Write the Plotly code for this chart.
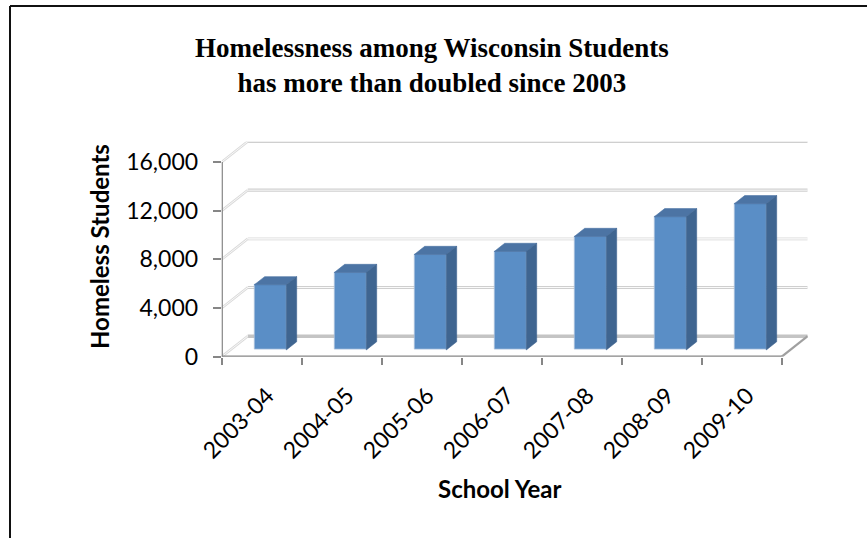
import plotly.graph_objects as go

# ---- data -------------------------------------------------------------
years = ["2003-04", "2004-05", "2005-06", "2006-07", "2007-08", "2008-09", "2009-10"]
students = [5350, 6360, 7840, 8090, 9320, 10940, 12010]
y_ticks = [0, 4000, 8000, 12000, 16000]
y_tick_text = ["0", "4,000", "8,000", "12,000", "16,000"]

# ---- geometry of the pseudo-3D box (pixels on the page) ------------------
W, H = 867, 538
X0_PX, X1_PX = 221.7, 781.7        # front floor edge, left / right
Y0_PX, YTOP_PX = 356.7, 162.0      # front plane: value 0 / value 16,000
DEPTH_DX_PX, DEPTH_DY_PX = 26.0, 20.5

n = len(years)
Y_MAX = y_ticks[-1]
x_per_px = n / (X1_PX - X0_PX)
y_per_px = Y_MAX / (Y0_PX - YTOP_PX)
DXU = DEPTH_DX_PX * x_per_px       # depth offset in x data units
DYU = DEPTH_DY_PX * y_per_px       # depth offset in y data units

BAR_W = 0.4
Z_FRONT, Z_BACK = 0.33, 0.73
LABEL_SHIFT = 0.07                 # rotated category labels sit a little right of centre

FRONT = "#5A8EC6"
TOP = "#4C74A4"
SIDE = "#3F6590"
EDGE = "#A9C0DD"
AXIS = "#868686"
GRID = "#CFCFCF"


def proj(x, y, z):
    """Oblique projection: depth z in [0, 1] shifts right and up."""
    return x + z * DXU, y + z * DYU


XL, XR = -0.5, n - 0.5

fig = go.Figure()

# front faces of the columns
fig.add_trace(go.Bar(
    x=[i + Z_FRONT * DXU for i in range(n)],
    y=students,
    base=Z_FRONT * DYU,
    width=BAR_W,
    marker=dict(color=FRONT, line=dict(color=EDGE, width=0.8)),
    hoverinfo="skip",
    showlegend=False,
))

# top and side faces
for i, v in enumerate(students):
    l, r = i - BAR_W / 2, i + BAR_W / 2
    top = [proj(l, v, Z_FRONT), proj(r, v, Z_FRONT), proj(r, v, Z_BACK), proj(l, v, Z_BACK)]
    side = [proj(r, 0, Z_FRONT), proj(r, v, Z_FRONT), proj(r, v, Z_BACK), proj(r, 0, Z_BACK)]
    for pts, col in ((top, TOP), (side, SIDE)):
        xs = [p[0] for p in pts] + [pts[0][0]]
        ys = [p[1] for p in pts] + [pts[0][1]]
        fig.add_trace(go.Scatter(
            x=xs, y=ys, mode="lines", fill="toself", fillcolor=col,
            line=dict(color=col, width=0.6), hoverinfo="skip", showlegend=False,
        ))

shapes = []


def seg(p, q, color, width, layer="below"):
    shapes.append(dict(type="line", xref="x", yref="y", x0=p[0], y0=p[1], x1=q[0], y1=q[1],
                       line=dict(color=color, width=width), layer=layer))


# back-wall gridlines (double line look) and side-wall diagonals
for t in y_ticks:
    if t == 0:
        continue
    a, b = proj(XL, t, 1), proj(XR, t, 1)
    c = "#E6E6E6" if t == 8000 else GRID
    seg(a, b, c, 3.2)
    seg(a, b, "#FAFAFA", 1.0)
    s0, s1 = proj(XL, t, 0), proj(XL, t, 1)
    seg(s0, s1, "#DADADA", 2.6)
    seg(s0, s1, "#FFFFFF", 0.8)

# floor
seg(proj(XL, 0, 1), proj(XR, 0, 1), "#C4C4C4", 3.5)
seg(proj(XL, 0, 0), proj(XL, 0, 1), "#DADADA", 2.6)
seg(proj(XL, 0, 0), proj(XL, 0, 1), "#FFFFFF", 0.8)
seg(proj(XR, 0, 0), proj(XR, 0, 1), "#A0A0A0", 2.2, layer="above")

# front axis lines
seg((XL, 0), (XR, 0), AXIS, 2.4, layer="above")
seg((XL, 0), (XL, Y_MAX), AXIS, 2.4, layer="above")

# outer frame (left and top edges)
shapes.append(dict(type="line", xref="paper", yref="paper",
                   x0=10 / W, y0=0, x1=10 / W, y1=1 - 6 / H,
                   line=dict(color="#111111", width=2)))
shapes.append(dict(type="line", xref="paper", yref="paper",
                   x0=10 / W, y0=1 - 6 / H, x1=1, y1=1 - 6 / H,
                   line=dict(color="#111111", width=2)))

x_domain = [X0_PX / W, (X1_PX + DEPTH_DX_PX) / W]
y_domain = [(H - Y0_PX) / H, (H - (YTOP_PX - DEPTH_DY_PX)) / H]
x_range = [XL, XR + DXU]
y_range = [0, Y_MAX + DYU]

TICK_FONT = dict(family="Lato, Open Sans, sans-serif", size=23, color="#000000")
AXIS_TITLE_FONT = dict(family="Lato, Open Sans, sans-serif", size=24, color="#000000")

fig.update_layout(
    width=W, height=H, autosize=False,
    margin=dict(l=0, r=0, t=0, b=0, pad=0, autoexpand=False),
    paper_bgcolor="white", plot_bgcolor="white",
    showlegend=False,
    bargap=0,
    shapes=shapes,
    xaxis=dict(
        domain=x_domain, range=x_range, anchor="y", automargin=False,
        tickmode="array", tickvals=[i + LABEL_SHIFT for i in range(n)], ticktext=years,
        tickangle=-45, ticks="", showgrid=False, zeroline=False, showline=False,
        tickfont=TICK_FONT, ticklabelstandoff=20, fixedrange=True,
    ),
    xaxis2=dict(
        domain=x_domain, range=x_range, anchor="y", overlaying="x", automargin=False,
        tickmode="array", tickvals=[XL + k for k in range(n + 1)],
        ticks="outside", ticklen=7, tickwidth=2, tickcolor=AXIS,
        showticklabels=False, showgrid=False, zeroline=False, showline=False,
    ),
    yaxis=dict(
        domain=y_domain, range=y_range, anchor="x", automargin=False,
        tickmode="array", tickvals=y_ticks, ticktext=y_tick_text,
        ticks="outside", ticklen=8, tickwidth=2, tickcolor=AXIS,
        showgrid=False, zeroline=False, showline=False,
        tickfont=TICK_FONT, ticklabelstandoff=10, fixedrange=True,
    ),
    annotations=[
        dict(text="<b>Homelessness among Wisconsin Students<br>has more than doubled since 2003</b>",
             xref="paper", yref="paper", x=432 / W, y=1 - 65 / H,
             xanchor="center", yanchor="middle", showarrow=False,
             font=dict(family="Liberation Serif, serif", size=27, color="#000000")),
        dict(text="<b>Homeless Students</b>", textangle=-90,
             xref="paper", yref="paper", x=99 / W, y=1 - 247 / H,
             xanchor="center", yanchor="middle", showarrow=False,
             font=AXIS_TITLE_FONT),
        dict(text="<b>School Year</b>",
             xref="paper", yref="paper", x=499 / W, y=1 - 488 / H,
             xanchor="center", yanchor="middle", showarrow=False,
             font=AXIS_TITLE_FONT),
    ],
)

# invisible trace so the overlaying axis is rendered
fig.add_trace(go.Scatter(x=[XL], y=[0], xaxis="x2", mode="markers",
                         marker=dict(opacity=0), hoverinfo="skip", showlegend=False))

fig.write_html("out.html")
